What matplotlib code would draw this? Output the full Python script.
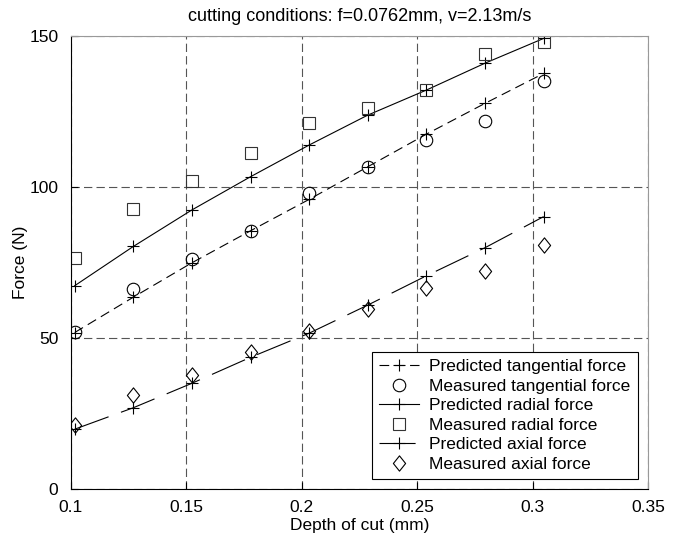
# Predicted vs measured cutting forces
import matplotlib
matplotlib.use("Agg")
import matplotlib.pyplot as plt
from matplotlib.path import Path

plt.rcParams['font.family'] = ['Liberation Sans', 'DejaVu Sans']
plt.rcParams['lines.scale_dashes'] = False

# Data (depth of cut in mm, forces in N)
depth = [0.1016, 0.127, 0.1524, 0.1778, 0.2032, 0.2286, 0.254, 0.2794, 0.3048]
pred_tan = [51.8, 63.5, 74.9, 85.5, 95.9, 106.7, 117.5, 127.7, 137.6]
meas_tan = [51.9, 66.1, 76.2, 85.5, 98.1, 106.7, 115.6, 121.8, 135.1]
pred_rad = [67.3, 80.3, 92.4, 103.4, 113.9, 123.8, 132.1, 141.0, 149.2]
meas_rad = [76.6, 92.6, 102.0, 111.4, 121.1, 126.3, 132.1, 144.0, 147.9]
pred_ax = [19.8, 26.9, 35.0, 43.6, 51.6, 60.9, 70.6, 79.9, 90.2]
meas_ax = [21.2, 31.1, 37.7, 45.3, 52.3, 59.6, 66.5, 72.3, 80.8]

xticks = [0.1, 0.15, 0.2, 0.25, 0.3, 0.35]
yticks = [0, 50, 100, 150]

# matlab style diamond (a bit narrower than tall)
diamond = Path([(0, 1), (0.8, 0), (0, -1), (-0.8, 0), (0, 1)],
               [Path.MOVETO, Path.LINETO, Path.LINETO, Path.LINETO, Path.CLOSEPOLY])

fs = 12.5
fig = plt.figure(figsize=(6.85, 5.42), dpi=100)
ax = fig.add_axes([0.1036, 0.0978, 0.8424, 0.8358])

lw = 0.8
ax.plot(depth, pred_tan, color='black', lw=lw, dashes=(7, 4), marker='+', ms=9,
        mew=0.8, label='Predicted tangential force')
ax.plot(depth, meas_tan, ls='none', marker='o', ms=9, mfc='none', mec='black',
        mew=0.8, label='Measured tangential force')
ax.plot(depth, pred_rad, color='black', lw=lw, ls='-', marker='+', ms=9,
        mew=0.8, label='Predicted radial force')
ax.plot(depth, meas_rad, ls='none', marker='s', ms=8, mfc='none', mec='#333333',
        mew=0.8, label='Measured radial force')
ax.plot(depth, pred_ax, color='black', lw=lw, dashes=(26, 9.5), marker='+', ms=9,
        mew=0.8, label='Predicted axial force')
ax.plot(depth, meas_ax, ls='none', marker=diamond, ms=11, mfc='none', mec='black',
        mew=0.8, label='Measured axial force')

ax.set_xlim(0.1, 0.35)
ax.set_ylim(0, 150)
ax.set_xticks(xticks)
ax.set_xticklabels(['0.1', '0.15', '0.2', '0.25', '0.3', '0.35'])
ax.set_yticks(yticks)
ax.tick_params(direction='in', labelsize=fs, length=5, width=0.8)
ax.tick_params(axis='x', pad=8)
ax.tick_params(axis='y', pad=9)
ax.grid(True, color='#555555', lw=0.8, dashes=(6, 3))

for s in ['top', 'right']:
    ax.spines[s].set_color('#999999')
for s in ['left', 'bottom']:
    ax.spines[s].set_color('black')

ax.set_xlabel('Depth of cut (mm)', fontsize=fs, labelpad=2)
ax.set_ylabel('Force (N)', fontsize=fs, labelpad=1)
ax.set_title('cutting conditions: f=0.0762mm, v=2.13m/s', fontsize=13, pad=11)

leg = ax.legend(loc='lower right', fontsize=fs, fancybox=False, framealpha=1,
                edgecolor='black', borderaxespad=0.6, handlelength=2.3,
                handletextpad=0.6, labelspacing=0.25, borderpad=0.4)
leg.get_frame().set_linewidth(0.8)

fig.savefig('out.png', dpi=100)
